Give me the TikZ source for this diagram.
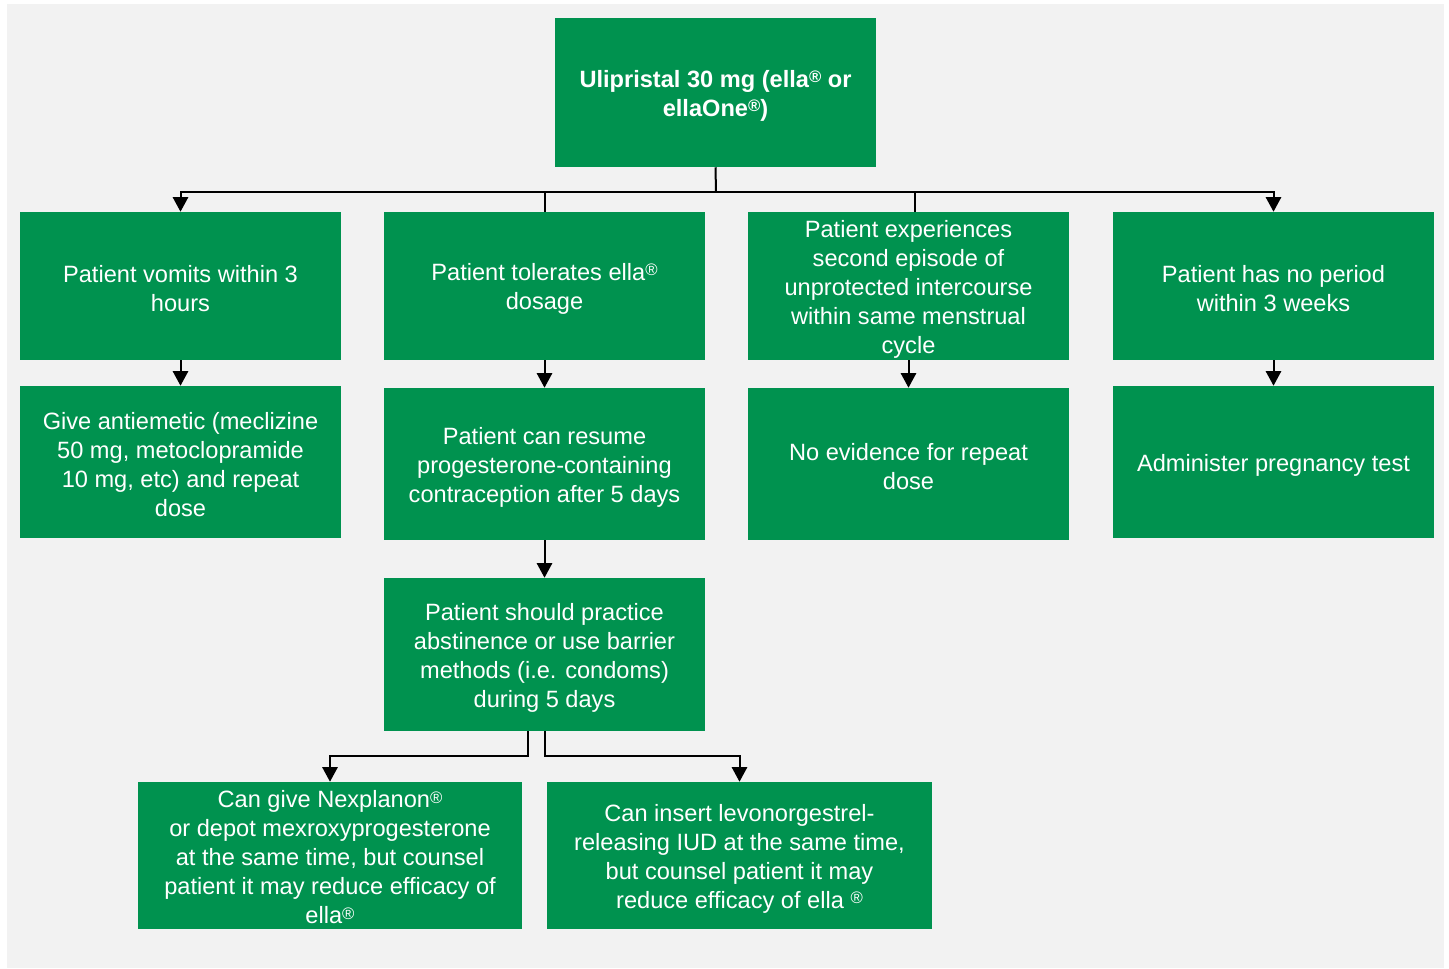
\documentclass[tikz,border=0pt]{standalone}
\usepackage{fontspec}
\setmainfont{Liberation Sans}
\usetikzlibrary{arrows.meta}
\definecolor{boxgreen}{RGB}{0,146,79}
\definecolor{bggray}{RGB}{242,242,242}
\newcommand{\regmark}{\raisebox{3.6pt}{\fontsize{12.5}{12.5}\selectfont ®}}
\tikzset{
  box/.style={rectangle, fill=boxgreen, inner sep=0pt, minimum width=240.75pt},
  txt/.style={text=white, align=center, inner sep=0pt, font=\fontsize{17.7}{21.75}\selectfont},
  arr/.style={line width=1.5pt, -{Triangle[width=11.5pt,length=11pt]}},
  plain/.style={line width=1.5pt}
}
\begin{document}
\begin{tikzpicture}[x=0.75pt,y=-0.75pt]
\useasboundingbox (0,0) rectangle (1449,969);
\fill[bggray] (7,4) rectangle (1444,968);

\node[box, minimum height=111.75pt] (top) at (715.5,92.5) {};
\node[box, minimum height=111pt] (A) at (180.5,286) {};
\node[box, minimum height=111pt] (B) at (544.5,286) {};
\node[box, minimum height=111pt] (C) at (908.5,286) {};
\node[box, minimum height=111pt] (D) at (1273.5,286) {};
\node[box, minimum height=114pt] (A2) at (180.5,462) {};
\node[box, minimum height=114pt] (B2) at (544.5,464) {};
\node[box, minimum height=114pt] (C2) at (908.5,464) {};
\node[box, minimum height=114pt] (D2) at (1273.5,462) {};
\node[box, minimum height=114.75pt] (B3) at (544.5,654.5) {};
\node[box, minimum height=110.25pt, minimum width=288pt] (E) at (330,855.5) {};
\node[box, minimum height=110.25pt, minimum width=288.75pt] (F) at (739.5,855.5) {};

\node[txt, font=\fontsize{17.7}{21.75}\selectfont\bfseries] (top-t) at ([yshift=-2.2pt]top.center)
  {Ulipristal 30 mg (ella\regmark{} or\\ellaOne\regmark)};
\node[txt] (A-t) at ([yshift=-2.2pt]A.center) {Patient vomits within 3\\hours};
\node[txt] (B-t) at ([yshift=-2.2pt]B.center) {Patient tolerates ella\regmark\\dosage};
\node[txt] (C-t) at ([yshift=-2.2pt]C.center) {Patient experiences\\second episode of\\unprotected intercourse\\within same menstrual\\cycle};
\node[txt] (D-t) at ([yshift=-2.2pt]D.center) {Patient has no period\\within 3 weeks};
\node[txt] (A2-t) at ([yshift=-2.2pt]A2.center) {Give antiemetic (meclizine\\50 mg, metoclopramide\\10 mg, etc) and repeat\\dose};
\node[txt] (B2-t) at ([yshift=-2.2pt]B2.center) {Patient can resume\\progesterone-containing\\contraception after 5 days};
\node[txt] (C2-t) at ([yshift=-2.2pt]C2.center) {No evidence for repeat\\dose};
\node[txt] (D2-t) at ([yshift=-2.2pt]D2.center) {Administer pregnancy test};
\node[txt] (B3-t) at ([yshift=-2.2pt]B3.center) {Patient should practice\\abstinence or use barrier\\methods (i.e. condoms)\\during 5 days};
\node[txt] (E-t) at ([yshift=-1.5pt]E.center) {Can give Nexplanon\regmark\\or depot mexroxyprogesterone\\at the same time, but counsel\\patient it may reduce efficacy of\\ella\regmark};
\node[txt] (F-t) at ([yshift=-2.2pt]F.center) {Can insert levonorgestrel-\\releasing IUD at the same time,\\but counsel patient it may\\reduce efficacy of ella \regmark};

\coordinate (hub) at (716,192.5);
\coordinate (cn) at ([xshift=4.9pt]C.north);
\draw[plain] (top.south) -- (hub);
\draw[arr] (hub) -| (A.north);
\draw[arr] (hub) -| (D.north);
\draw[plain] (hub -| B.north) -- (B.north);
\draw[plain] (hub -| cn) -- (cn);

\draw[arr] (A) -- (A2);
\draw[arr] (B) -- (B2);
\draw[arr] (C) -- (C2);
\draw[arr] (D) -- (D2);
\draw[arr] (B2) -- (B3);

\draw[arr] ([xshift=-12.4pt]B3.south) -- ++(0,25) -| (E.north);
\draw[arr] (B3.south) -- ++(0,25) -| (F.north);
\end{tikzpicture}
\end{document}
